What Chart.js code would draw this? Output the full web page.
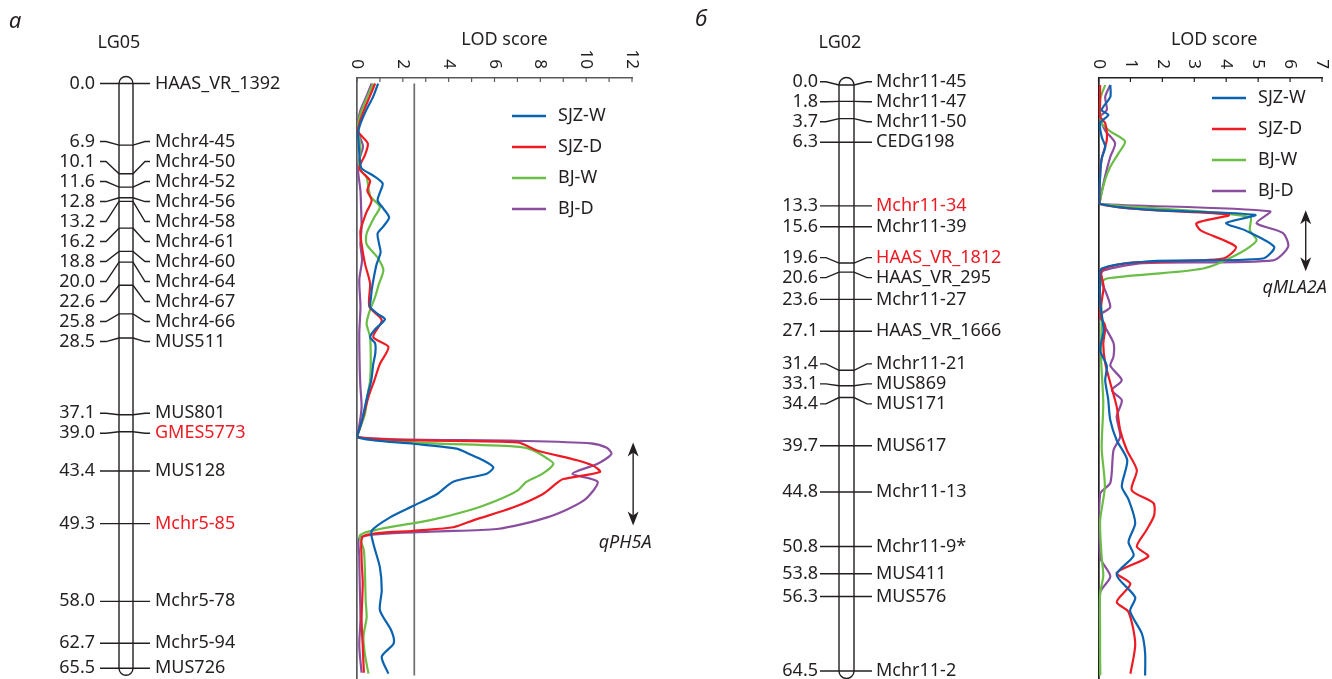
<!DOCTYPE html>
<html>
<head>
<meta charset="utf-8">
<script src="https://cdn.jsdelivr.net/npm/chart.js@4.4.1/dist/chart.umd.min.js"></script>
<style>
html,body{margin:0;padding:0;background:#fff;}
#wrap{position:relative;width:1332px;height:679px;overflow:hidden;}
canvas{position:absolute;top:0;}
#ca{left:0;}
#cb{left:665px;}
</style>
</head>
<body>
<div id="wrap">
<canvas id="ca" width="665" height="679"></canvas>
<canvas id="cb" width="667" height="679"></canvas>
</div>
<script>
var seriesNames = ["SJZ-W", "SJZ-D", "BJ-W", "BJ-D"]
var seriesColors = ["#0b63b0", "#ed1c24", "#6abd45", "#8a4e9e"]

// panel a: LG05
var markersA = ["HAAS_VR_1392","Mchr4-45","Mchr4-50","Mchr4-52","Mchr4-56","Mchr4-58","Mchr4-61","Mchr4-60","Mchr4-64","Mchr4-67","Mchr4-66","MUS511","MUS801","GMES5773","MUS128","Mchr5-85","Mchr5-78","Mchr5-94","MUS726"]
var posA = [0.0,6.9,10.1,11.6,12.8,13.2,16.2,18.8,20.0,22.6,25.8,28.5,37.1,39.0,43.4,49.3,58.0,62.7,65.5]
var redA = ["GMES5773","Mchr5-85"]
var lodTicksA = [0,1,2,3,4,5,6,7,8,9,10,11,12]
var lodLabelsA = [0,2,4,6,8,10,12]
var thresholdA = 2.5
var qtlA = ["qPH5A", 40.2, 49.5]

var a_sjzW = [[0,0.92],[1.5,0.7],[3,0.4],[4.5,0.15],[5.5,0.05],[7,0.08],[8.5,0.12],[9.5,0.2],[10.3,0.7],[11.2,1.12],[12.2,1.0],[13.1,0.9],[14,1.15],[15,1.4],[16,1.15],[16.8,0.9],[17.8,0.95],[18.9,1.03],[20.2,0.86],[21.5,0.75],[23,0.65],[24.2,0.6],[25,0.57],[25.8,0.9],[26.4,1.22],[27.5,0.8],[28.4,0.57],[29.1,0.79],[30.2,0.8],[31.4,0.71],[33.3,0.62],[35.1,0.44],[37.9,0.2],[39.6,0],[40.35,2.46],[40.9,4.35],[41.5,4.9],[42.2,5.5],[43.0,5.95],[43.7,5.66],[44.6,4.2],[46.0,3.48],[47.3,2.46],[48.6,1.44],[50.1,0.64],[51.5,0.71],[54.2,1.0],[56.8,1.08],[59.0,1.0],[61.3,1.5],[62.7,1.6],[64.2,1.08],[66.1,1.37]]
var a_sjzD = [[0,0.79],[1.5,0.55],[3,0.3],[4.5,0.1],[5.4,0.05],[6.7,0.47],[8,0.35],[9.5,0.1],[10.9,0.57],[12,0.45],[13.1,0.64],[14.5,0.4],[16.5,0.15],[18,0.2],[20.2,0.35],[22.4,0.57],[25,0.54],[26.5,1.08],[28.4,0.71],[29.5,1.37],[31.4,1.0],[33.3,0.75],[35.1,0.5],[37.5,0.25],[39.6,0],[40.2,7.0],[41.1,7.85],[42.2,9.6],[42.8,10.3],[43.5,10.6],[44.3,9.0],[44.8,8.7],[46.0,8.1],[47.5,6.8],[48.9,5.1],[49.7,4.2],[50.1,2.46],[50.7,0.28],[53,0.2],[56,0.25],[60,0.2],[63,0.25],[66,0.3]]
var a_bjW = [[0,0.7],[1.5,0.45],[3,0.2],[4.5,0.05],[6,0.1],[7.5,0.15],[9.5,0.1],[10.5,0.42],[11.7,0.5],[12.7,0.6],[13.8,1.0],[15,0.75],[16.8,0.42],[18,0.42],[19.5,0.9],[20.9,1.15],[22.5,0.95],[23.9,0.79],[25.5,0.55],[26.9,0.42],[28.4,0.57],[31,0.6],[33.3,0.57],[35,0.45],[37,0.35],[39.6,0],[40.7,7.1],[41.1,7.7],[42.0,8.3],[42.6,8.57],[43.7,8.1],[44.6,7.4],[45.6,7.0],[46.7,6.1],[47.8,4.9],[48.9,3.2],[49.9,1.0],[50.6,0.13],[52.3,0.3],[55,0.35],[58,0.38],[59.8,0.42],[62,0.28],[64,0.35],[66.1,0.5]]
var a_bjD = [[0,0.64],[1.5,0.4],[3,0.15],[4.5,0.03],[5.5,0.05],[7,0.26],[8.5,0.1],[9.8,0.05],[12,0.15],[14,0.18],[16,0.2],[18,0.15],[19.8,0.22],[22,0.1],[25,0.15],[28,0.1],[32,0.12],[34,0.15],[36.2,0.2],[38,0.12],[39.6,0],[40.0,6.7],[40.3,10.2],[40.8,10.9],[41.5,11.1],[42.6,10.5],[43.7,9.4],[44.6,10.5],[46.7,9.9],[48.6,8.3],[49.9,6.1],[50.2,3.2],[50.8,0.13],[53,0.1],[56,0.12],[60,0.15],[63,0.1],[66,0.2]]

// panel b: LG02
var markersB = ["Mchr11-45","Mchr11-47","Mchr11-50","CEDG198","Mchr11-34","Mchr11-39","HAAS_VR_1812","HAAS_VR_295","Mchr11-27","HAAS_VR_1666","Mchr11-21","MUS869","MUS171","MUS617","Mchr11-13","Mchr11-9*","MUS411","MUS576","Mchr11-2"]
var posB = [0.0,1.8,3.7,6.3,13.3,15.6,19.6,20.6,23.6,27.1,31.4,33.1,34.4,39.7,44.8,50.8,53.8,56.3,64.5]
var redB = ["Mchr11-34","HAAS_VR_1812"]
var lodTicksB = [0,1,2,3,4,5,6,7]
var lodLabelsB = [0,1,2,3,4,5,6,7]
var qtlB = ["qMLA2A", 13.8, 20.5]

var b_sjzW = [[0,0.37],[1.3,0.37],[2.75,0.1],[3.3,0.31],[4.2,0.05],[5.7,0.1],[6.8,0.21],[8.1,0.1],[10,0.05],[13.1,0.05],[14.3,4.9],[15.2,4.0],[16.0,4.6],[17.8,5.5],[19.1,5.15],[19.4,1.6],[20.2,0.1],[22,0.05],[23.9,0.05],[27.0,0.16],[29.2,0.05],[30.9,0.26],[32.5,0.21],[34.5,0.3],[36.9,0.37],[39.1,0.57],[41.3,0.9],[44.2,0.73],[45.6,0.94],[48.2,1.15],[50.3,0.94],[51.8,1.1],[53.9,0.57],[56.4,1.15],[57.9,0.99],[60.4,1.36],[62.5,1.46],[65,1.46]]
var b_sjzD = [[0,0.05],[2,0.05],[3.5,0.05],[4.2,0.21],[6.05,0.26],[8.1,0.1],[10,0.05],[13.1,0.05],[14.3,4.07],[15.2,3.07],[16.0,3.2],[17.8,4.3],[19.1,3.9],[19.6,0.89],[20.4,0.1],[22.2,0.16],[25.4,0.05],[26.5,0.21],[28.5,0.15],[30.6,0.21],[32.8,0.37],[35.4,0.57],[38,0.68],[40.2,0.89],[42.4,1.2],[44.6,1.04],[46.0,1.72],[47.4,1.74],[49,1.5],[50.8,1.2],[51.9,1.56],[53.7,0.57],[54.9,1.0],[56.9,0.57],[58.0,0.94],[61.5,1.15],[64.8,1.0]]
var b_bjW = [[0,0.21],[1.6,0.05],[4.2,0.1],[5.1,0.37],[6.2,0.83],[7.5,0.63],[9.0,0.37],[10.4,0.21],[12.7,0.05],[13.1,0.05],[14.5,4.74],[16.0,4.74],[17.1,4.95],[18.5,4.43],[20.2,3.28],[21.3,0.26],[22,0.05],[25,0.1],[30,0.08],[35,0.15],[40,0.1],[44.2,0.2],[48,0.05],[52,0.1],[54,0.15],[56,0.05],[60,0.05],[65,0.05]]
var b_bjD = [[0,0.37],[1.3,0.21],[2.75,0.26],[3.5,0.05],[5.0,0.21],[6.4,0.52],[7.9,0.37],[10.0,0.21],[12.7,0.05],[13.1,0.05],[13.9,5.37],[15.2,4.95],[16.3,5.78],[17.8,5.94],[19.3,5.47],[19.6,1.4],[20.4,0.16],[21.1,0.05],[24.4,0.37],[25.4,0.05],[28.4,0.47],[29.9,0.47],[30.9,0.37],[32.5,0.73],[33.6,0.42],[34.7,0.73],[36.5,0.57],[38.7,0.68],[40.2,0.47],[43.8,0.37],[45.0,0.05],[52.0,0.05],[54.1,0.37],[55.9,0.05],[64.9,0.05]]

var ink = "#231f20"
var FONT = "'Noto Sans', sans-serif"
Chart.defaults.font.family = FONT

// spread marker labels so they do not overlap (groups centred on their span)
function spread(ys, gap) {
  var groups = ys.map(function (v) { return { a: v, b: v, n: 1 } })
  var changed = true
  while (changed) {
    changed = false
    for (var i = 0; i < groups.length - 1; i++) {
      var g = groups[i], h = groups[i + 1]
      var gEnd = (g.a + g.b) / 2 + (g.n - 1) * gap / 2
      var hStart = (h.a + h.b) / 2 - (h.n - 1) * gap / 2
      if (hStart - gEnd < gap - 0.01) {
        groups.splice(i, 2, { a: g.a, b: h.b, n: g.n + h.n })
        changed = true
        break
      }
    }
  }
  var out = []
  groups.forEach(function (g) {
    var s = (g.a + g.b) / 2 - (g.n - 1) * gap / 2
    for (var k = 0; k < g.n; k++) out.push(s + k * gap)
  })
  return out
}

function arrowHead(ctx, x, y, dir) {
  ctx.beginPath()
  ctx.moveTo(x, y)
  ctx.lineTo(x - 5.5, y + dir * 14)
  ctx.lineTo(x, y + dir * 10)
  ctx.lineTo(x + 5.5, y + dir * 14)
  ctx.closePath()
  ctx.fill()
}

function panelPlugin(m) {
  return {
    id: "panel",
    afterDraw: function (chart) {
      var ctx = chart.ctx
      var xs = chart.scales.x, ys = chart.scales.y
      var area = chart.chartArea
      ctx.save()
      ctx.fillStyle = ink
      ctx.strokeStyle = ink

      // panel letter + linkage group title
      ctx.font = "italic 22px " + FONT
      ctx.textBaseline = "middle"
      ctx.textAlign = "left"
      ctx.fillText(m.letter, m.letterX, m.letterY)
      ctx.font = "18px " + FONT
      ctx.textAlign = "center"
      ctx.fillText(m.title, m.titleX, 43)

      // LOD axis: ticks inward, labels rotated
      ctx.strokeStyle = m.axisColor
      ctx.lineWidth = 1.2
      m.ticks.forEach(function (v) {
        var px = xs.getPixelForValue(v)
        ctx.beginPath(); ctx.moveTo(px, area.top); ctx.lineTo(px, area.top + 4); ctx.stroke()
      })
      ctx.fillStyle = ink
      ctx.font = "17px " + FONT
      m.labels.forEach(function (v) {
        var px = xs.getPixelForValue(v)
        ctx.save()
        ctx.translate(px, 69)
        ctx.rotate(Math.PI / 2)
        ctx.textAlign = "right"
        ctx.textBaseline = "middle"
        ctx.fillText(String(v), 0, 0)
        ctx.restore()
      })
      ctx.font = "18px " + FONT
      ctx.textAlign = "center"
      ctx.textBaseline = "middle"
      ctx.fillText("LOD score", (area.left + area.right) / 2 + m.lodTitleDx, 40)

      // linkage map
      var by = m.pos.map(function (p) { return ys.getPixelForValue(p) })
      var ly = spread(by, 20)
      var top = by[0], bot = by[by.length - 1]
      var r = (m.barR - m.barL) / 2, cx = (m.barL + m.barR) / 2
      ctx.strokeStyle = ink
      ctx.lineWidth = 1.4
      ctx.beginPath()
      ctx.moveTo(m.barL, bot)
      ctx.lineTo(m.barL, top)
      ctx.arc(cx, top, r, Math.PI, 0)
      ctx.lineTo(m.barR, bot)
      ctx.arc(cx, bot, r, 0, Math.PI)
      ctx.closePath()
      ctx.stroke()
      ctx.font = "18px " + FONT
      ctx.textBaseline = "middle"
      for (var i = 0; i < by.length; i++) {
        ctx.beginPath()
        ctx.moveTo(m.tickL, ly[i])
        ctx.lineTo(m.tickL + 6, ly[i])
        ctx.lineTo(m.barL, by[i])
        ctx.lineTo(m.barR, by[i])
        ctx.lineTo(m.tickR - 5, ly[i])
        ctx.lineTo(m.tickR, ly[i])
        ctx.stroke()
        ctx.fillStyle = ink
        ctx.textAlign = "right"
        ctx.fillText(m.pos[i].toFixed(1), m.numR, ly[i])
        ctx.textAlign = "left"
        ctx.fillStyle = m.red.indexOf(m.names[i]) >= 0 ? "#ed1c24" : ink
        ctx.fillText(m.names[i], m.nameX, ly[i])
      }

      // legend
      ctx.lineWidth = 2.4
      ctx.font = "18px " + FONT
      ctx.textAlign = "left"
      for (var k = 0; k < seriesNames.length; k++) {
        var yy = m.legY + k * m.legStep
        ctx.strokeStyle = seriesColors[k]
        ctx.beginPath(); ctx.moveTo(m.legX, yy); ctx.lineTo(m.legX + 34, yy); ctx.stroke()
        ctx.fillStyle = ink
        ctx.fillText(seriesNames[k], m.legX + 46, yy)
      }

      // QTL interval arrow
      var ax = xs.getPixelForValue(m.arrowLod)
      var y0 = ys.getPixelForValue(m.qtl[1]), y1 = ys.getPixelForValue(m.qtl[2])
      ctx.strokeStyle = ink
      ctx.fillStyle = ink
      ctx.lineWidth = 1.4
      ctx.beginPath(); ctx.moveTo(ax, y0 + 8); ctx.lineTo(ax, y1 - 8); ctx.stroke()
      arrowHead(ctx, ax, y0, 1)
      arrowHead(ctx, ax, y1, -1)
      ctx.font = "italic 18px " + FONT
      ctx.textAlign = "center"
      ctx.textBaseline = "middle"
      ctx.fillText(m.qtl[0], ax + m.qtlDx, y1 + 17)
      ctx.restore()
    }
  }
}

function lodSets(list, extra) {
  var sets = list.map(function (s, i) {
    return {
      label: seriesNames[i],
      data: s.map(function (p) { return { x: p[1], y: p[0] } }),
      borderColor: seriesColors[i],
      borderWidth: 2.2,
      pointRadius: 0,
      showLine: true,
      tension: 0.25,
      fill: false
    }
  })
  return sets.concat(extra || [])
}

function lodOptions(pad, xmax, ymin, ymax, axisColor) {
  return {
    responsive: false,
    animation: false,
    layout: { padding: pad },
    plugins: { legend: { display: false }, tooltip: { enabled: false } },
    scales: {
      x: {
        type: "linear", position: "top", min: 0, max: xmax,
        afterFit: function (s) { s.height = 0 },
        ticks: { display: false },
        grid: { drawOnChartArea: false, drawTicks: false },
        border: { display: true, color: axisColor, width: 1.5 }
      },
      y: {
        type: "linear", position: "left", reverse: true, min: ymin, max: ymax,
        afterFit: function (s) { s.width = 0 },
        ticks: { display: false },
        grid: { drawOnChartArea: false, drawTicks: false },
        border: { display: true, color: axisColor, width: 1.7 }
      }
    }
  }
}

var threshold = {
  label: "threshold",
  data: [{ x: thresholdA, y: 0 }, { x: thresholdA, y: 66.3 }],
  borderColor: "#6d6e71",
  borderWidth: 1.7,
  pointRadius: 0,
  showLine: true
}

new Chart(document.getElementById("ca"), {
  type: "scatter",
  data: { datasets: lodSets([a_sjzW, a_sjzD, a_bjW, a_bjD], [threshold]) },
  options: lodOptions({ left: 357, right: 33, top: 78, bottom: 0 }, 12, -0.62, 66.7, "#58595b"),
  plugins: [panelPlugin({
    letter: "а", letterX: 9, letterY: 22, title: "LG05", titleX: 119,
    names: markersA, pos: posA, red: redA,
    barL: 119, barR: 133, numR: 95, tickL: 100, tickR: 150, nameX: 155,
    ticks: lodTicksA, labels: lodLabelsA, axisColor: "#58595b", lodTitleDx: 10,
    legX: 512, legY: 116, legStep: 31,
    qtl: qtlA, arrowLod: 12.05, qtlDx: -8
  })]
})

new Chart(document.getElementById("cb"), {
  type: "scatter",
  data: { datasets: lodSets([b_sjzW, b_sjzD, b_bjW, b_bjD]) },
  options: lodOptions({ left: 433.5, right: 10, top: 78, bottom: 0 }, 7, -0.77, 65.38, ink),
  plugins: [panelPlugin({
    letter: "б", letterX: 30, letterY: 20, title: "LG02", titleX: 175,
    names: markersB, pos: posB, red: redB,
    barL: 174, barR: 189, numR: 153, tickL: 155, tickR: 207, nameX: 211,
    ticks: lodTicksB, labels: lodLabelsB, axisColor: ink, lodTitleDx: 4,
    legX: 547, legY: 98, legStep: 31,
    qtl: qtlB, arrowLod: 6.49, qtlDx: -11
  })]
})
</script>
</body>
</html>
